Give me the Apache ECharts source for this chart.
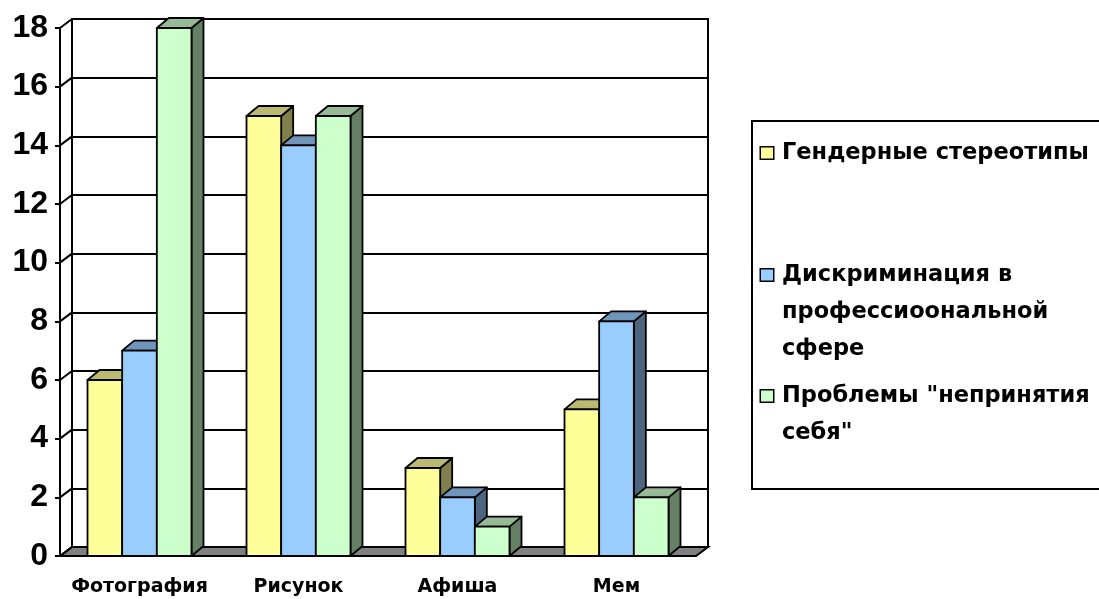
<!DOCTYPE html>
<html>
<head>
<meta charset="utf-8">
<script src="https://cdn.jsdelivr.net/npm/echarts@6/dist/echarts.min.js"></script>
<style>
  html, body { margin: 0; padding: 0; background: #fff; }
  #chart { width: 1099px; height: 599px; }
</style>
</head>
<body>
<div id="chart"></div>
<script>
// Categories and series values
const categories = ['Фотография', 'Рисунок', 'Афиша', 'Мем'];
const seriesNames = [
  'Гендерные стереотипы',
  'Дискриминация в профессиоональной сфере',
  'Проблемы "непринятия себя"'
];
const legendLines = [
  ['Гендерные стереотипы'],
  ['Дискриминация в', 'профессиоональной', 'сфере'],
  ['Проблемы "непринятия', 'себя"']
];
const genderStereotypes = [6, 15, 3, 5];
const discrimination = [7, 14, 2, 8];
const selfRejection = [18, 15, 1, 2];
const yMin = 0;
const yMax = 18;
const yStep = 2;
const yTicks = [0, 2, 4, 6, 8, 10, 12, 14, 16, 18];

const seriesValues = [genderStereotypes, discrimination, selfRejection];

// 3D column shading: front, top, side faces
const faceColors = ['#FFFF99', '#99CCFF', '#CCFFCC'];
const topColors = ['#BABA70', '#7095BA', '#95BA95'];
const sideColors = ['#80804D', '#4D6680', '#668066'];

// depth offsets of the walls/floor and of the columns
const DX = 12, DY = -9;
const BDX = 12, BDY = -10;
const BAR_FRAC = 0.218;
const FONT = '"Liberation Sans", Arial, sans-serif';
const WIDE_FONT = '"DejaVu Sans", Verdana, sans-serif';

// legend layout: frame box and the y of each entry's first line
const LEGEND_LEFT = 752, LEGEND_TOP = 121, LEGEND_BOTTOM = 485;
const LINE_H = 37;
const FIRST_LINE_OFFSET = 9.5; // first line centre below the text box top
const legendFirstLineY = [151, 273, 394];

// Floor and the left wall's diagonal gridline stubs
function renderFrame(params, api) {
  const cs = params.coordSys;
  const y = api.coord([0, api.value(1)])[1];
  const children = [{
    type: 'line',
    shape: { x1: cs.x, y1: y, x2: cs.x + DX, y2: y + DY },
    style: { stroke: '#000', lineWidth: 2 }
  }];
  if (params.dataIndex === 0) {
    const yb = cs.y + cs.height;
    children.unshift({
      type: 'polygon',
      shape: { points: [[cs.x, yb], [cs.x + cs.width, yb], [cs.x + cs.width + DX, yb + DY], [cs.x + DX, yb + DY]] },
      style: { fill: '#808080', stroke: '#000', lineWidth: 2 }
    });
  }
  return { type: 'group', children };
}

// One 3D column: side face, top face, then front face
function makeBarRenderer(s) {
  return function (params, api) {
    const ci = api.value(0), v = api.value(1);
    const topPt = api.coord([ci, v]);
    const basePt = api.coord([ci, 0]);
    const bw = api.size([1, 0])[0] * BAR_FRAC;
    const x0 = topPt[0] + (s - 1.5) * bw, x1 = x0 + bw;
    const yt = topPt[1], yb = basePt[1];
    const line = { stroke: '#000', lineWidth: 1.8, lineJoin: 'round' };
    return {
      type: 'group',
      children: [
        { type: 'polygon', shape: { points: [[x1, yb], [x1, yt], [x1 + BDX, yt + BDY], [x1 + BDX, yb + BDY]] },
          style: Object.assign({ fill: sideColors[s] }, line) },
        { type: 'polygon', shape: { points: [[x0, yt], [x0 + BDX, yt + BDY], [x1 + BDX, yt + BDY], [x1, yt]] },
          style: Object.assign({ fill: topColors[s] }, line) },
        { type: 'rect', shape: { x: x0, y: yt, width: bw, height: yb - yt },
          style: Object.assign({ fill: faceColors[s] }, line) }
      ]
    };
  };
}

const legendRich = {
  t: { fontSize: 22.5, fontWeight: 'bold', color: '#000', lineHeight: LINE_H, fontFamily: WIDE_FONT },
  g: { width: 9 },
  s: { width: 21 }
};
faceColors.forEach((c, i) => {
  legendRich['m' + i] = { width: 12, height: 11, backgroundColor: c, borderColor: '#000', borderWidth: 1.5, verticalAlign: 'middle' };
});

function legendText(name) {
  const i = seriesNames.indexOf(name);
  return legendLines[i].map((ln, k) =>
    (k === 0 ? '{m' + i + '|}{g|}' : '{s|}') + '{t|' + ln + '}'
  ).join('\n');
}

// one legend per entry so each entry sits on its own row; the first carries the frame
const legends = seriesNames.map((name, i) => {
  const boxTop = legendFirstLineY[i] - FIRST_LINE_OFFSET;
  const lg = {
    left: LEGEND_LEFT, orient: 'vertical',
    icon: 'none', itemWidth: 0, itemHeight: 0,
    selectedMode: false,
    data: [name],
    formatter: legendText,
    textStyle: { rich: legendRich }
  };
  if (i === 0) {
    lg.top = LEGEND_TOP;
    lg.padding = [boxTop - LEGEND_TOP, 60, LEGEND_BOTTOM - (legendFirstLineY[0] + FIRST_LINE_OFFSET), 4];
    lg.borderColor = '#000';
    lg.borderWidth = 2;
  } else {
    lg.top = boxTop;
    lg.padding = [0, 0, 0, 4];
  }
  return lg;
});

const chart = echarts.init(document.getElementById('chart'), null, { renderer: 'canvas' });

chart.setOption({
  animation: false,
  backgroundColor: '#fff',
  textStyle: { fontFamily: FONT },
  grid: [
    { left: 60, top: 28, width: 636, height: 528 },
    { left: 72, top: 19, width: 636, height: 528, show: true, backgroundColor: '#fff', borderColor: '#000', borderWidth: 2 }
  ],
  xAxis: [
    {
      type: 'category', gridIndex: 0, data: categories,
      axisLine: { lineStyle: { color: '#000', width: 2 } },
      axisTick: { length: 6, lineStyle: { color: '#000', width: 2 } },
      axisLabel: { interval: 0, color: '#000', fontSize: 19, fontWeight: 'bold', margin: 22, fontFamily: WIDE_FONT }
    },
    { type: 'category', gridIndex: 1, data: categories, show: false }
  ],
  yAxis: [
    {
      type: 'value', gridIndex: 0, min: yMin, max: yMax, interval: yStep,
      axisLine: { show: true, lineStyle: { color: '#000', width: 2 } },
      axisTick: { show: true, length: 5, lineStyle: { color: '#000', width: 2 } },
      axisLabel: { color: '#000', fontSize: 32, fontWeight: 'bold', margin: 12, fontFamily: FONT },
      splitLine: { show: false }
    },
    {
      type: 'value', gridIndex: 1, min: yMin, max: yMax, interval: yStep,
      axisLine: { show: false }, axisTick: { show: false }, axisLabel: { show: false },
      splitLine: { show: true, lineStyle: { color: '#000', width: 2 } }
    }
  ],
  legend: legends,
  series: [
    {
      type: 'custom', name: 'frame', silent: true, clip: false,
      xAxisIndex: 0, yAxisIndex: 0,
      encode: { x: 0, y: 1 },
      data: yTicks.map(t => [0, t]),
      renderItem: renderFrame
    }
  ].concat(seriesValues.map((vals, s) => ({
    type: 'custom', name: seriesNames[s], clip: false,
    xAxisIndex: 0, yAxisIndex: 0,
    encode: { x: 0, y: 1 },
    itemStyle: { color: faceColors[s] },
    data: vals.map((v, i) => [i, v]),
    renderItem: makeBarRenderer(s)
  })))
});
</script>
</body>
</html>
